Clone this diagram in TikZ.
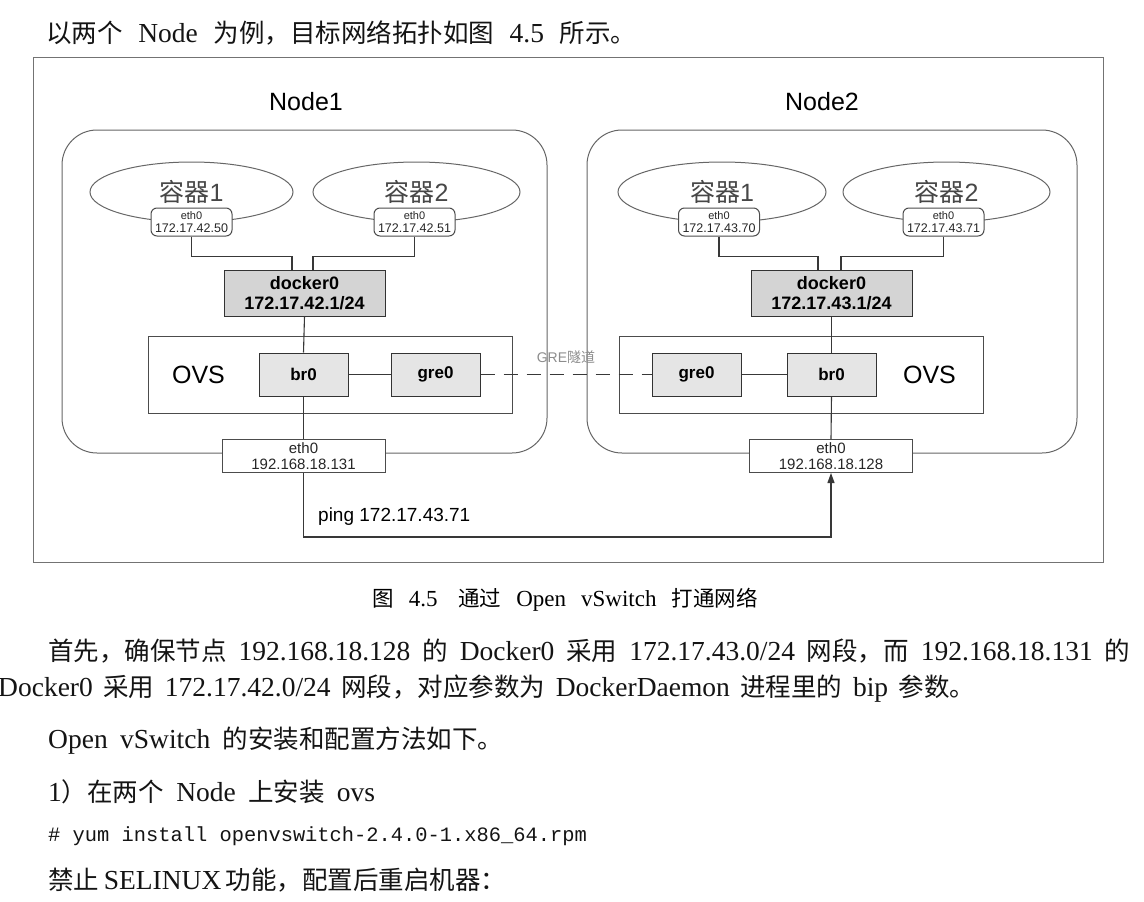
\documentclass[tikz,border=0pt]{standalone}
\usepackage{fontspec}
\setmainfont{Liberation Serif}
\setsansfont{Liberation Sans}
\setmonofont{Liberation Mono}
\newfontfamily\cjk{Noto Sans CJK SC}
\usetikzlibrary{shapes.geometric,arrows.meta,calc}
\newcommand\fsz[1]{\fontsize{#1}{#1}\selectfont}
\newcommand\C[1]{{\cjk #1}}
\newcommand\CB[1]{{\cjk\fsz{25.5}#1}}
\newcommand\CC[1]{{\cjk\fsz{21.5}#1}}
\begin{document}
\begin{tikzpicture}[x=1pt,y=-1pt,
  ln/.style={draw=black!78,line width=1.1pt},
  nodebox/.style={draw=black!60,line width=1pt,rounded corners=35pt,fill=white},
  cont/.style={ellipse,draw=black!60,line width=1pt,fill=white,font=\sffamily\fsz{25},text=black!72},
  ethsmall/.style={draw=black!70,line width=1pt,rounded corners=6pt,fill=white,minimum width=81pt,minimum height=28pt,inner sep=0pt,align=center,font=\sffamily\fsz{11},text=black!85},
  dock/.style={draw=black!80,line width=1pt,fill=black!17,minimum width=161pt,minimum height=46pt,inner sep=0pt,align=center,font=\sffamily\bfseries\fsz{18}},
  ovs/.style={draw=black!70,line width=1pt,fill=white,minimum width=364pt,minimum height=77pt,inner sep=0pt},
  port/.style={draw=black!80,line width=1pt,fill=black!10,minimum width=89pt,minimum height=43pt,inner sep=0pt,font=\sffamily\bfseries\fsz{17}},
  ethbig/.style={draw=black!70,line width=1pt,fill=white,minimum width=163pt,minimum height=33pt,inner sep=0pt,align=center,font=\sffamily\fsz{15},text=black!85},
  body/.style={anchor=west,inner sep=0pt,font=\fsz{27.5},text=black!92},
  lbl/.style={font=\sffamily\fsz{25},inner sep=0pt}
]
\useasboundingbox (0,0) rectangle (1144,902);
\fill[white] (0,0) rectangle (1144,902);

% text above
\node[body] (t0) at (46,33) {\makebox[590pt][s]{\CB{以两个} Node \CB{为例，目标网络拓扑如图} 4.5 \CB{所示。}}};

% outer frame
\node[draw=black!55,line width=0.8pt,minimum width=1070pt,minimum height=505pt,inner sep=0pt] (frame) at (568,309.5) {};

% node labels
\node[lbl] (n1lbl) at (306,102) {Node1};
\node[lbl] (n2lbl) at (822,102) {Node2};

% node boxes
\draw[nodebox] (62,130) rectangle (547,453);
\draw[nodebox] (587,130) rectangle (1077,453);

% containers
\node[cont,minimum width=203pt,minimum height=60pt] (c11) at (191.5,192) {\C{容器}1};
\node[cont,minimum width=207pt,minimum height=60pt] (c12) at (416.5,192) {\C{容器}2};
\node[cont,minimum width=208pt,minimum height=60pt] (c21) at (722,192) {\C{容器}1};
\node[cont,minimum width=207pt,minimum height=60pt] (c22) at (946.5,192) {\C{容器}2};

\node[ethsmall] (b11) at (191.5,222) {eth0\\[2pt]{\fsz{12.5}172.17.42.50}};
\node[ethsmall] (b12) at (414.5,222) {eth0\\[2pt]{\fsz{12.5}172.17.42.51}};
\node[ethsmall] (b21) at (719,222) {eth0\\[2pt]{\fsz{12.5}172.17.43.70}};
\node[ethsmall] (b22) at (943.5,222) {eth0\\[2pt]{\fsz{12.5}172.17.43.71}};

% docker0
\node[dock] (d1) at (304.5,293) {docker0\\[2pt]172.17.42.1/24};
\node[dock] (d2) at (831.5,293) {docker0\\[2pt]172.17.43.1/24};

\draw[ln] (b11.south) |- ([xshift=-12.5pt,yshift=13pt]d1.north) -- ([xshift=-12.5pt]d1.north);
\draw[ln] (b12.south) |- ([xshift=8.5pt,yshift=13pt]d1.north) -- ([xshift=8.5pt]d1.north);
\draw[ln] (b21.south) |- ([xshift=-13.5pt,yshift=13pt]d2.north) -- ([xshift=-13.5pt]d2.north);
\draw[ln] (b22.south) |- ([xshift=9.5pt,yshift=13pt]d2.north) -- ([xshift=9.5pt]d2.north);

% OVS
\node[ovs] (o1) at (330,374.5) {};
\node[ovs] (o2) at (801,374.5) {};
\node[lbl] (o1lbl) at (198.5,375) {OVS};
\node[lbl] (o2lbl) at (929.5,375) {OVS};

\node[port] (br1) at (303.5,374.5) {br0};
\node[port] (gr1) at (435.5,374.5) {gre0};
\node[port] (gr2) at (696.5,374.5) {gre0};
\node[port] (br2) at (831.5,374.5) {br0};

\draw[ln] (br1.east) -- (gr1.west);
\draw[ln] (gr2.east) -- (br2.west);

% eth0 hosts
\node[ethbig] (e1) at (303.5,456) {eth0\\[1pt]192.168.18.131};
\node[ethbig] (e2) at (831,456) {eth0\\[1pt]192.168.18.128};

\draw[ln] (d1.south) -- (br1.north);
\draw[ln] (br1.south) -- (e1.north);
\draw[ln] (d2.south) -- (br2.north);
\draw[ln] (br2.south) -- (e2.north);

% GRE tunnel
\draw[ln,dash pattern=on 14pt off 9pt] (gr1.east) -- (gr2.west);
\node[font=\sffamily\fsz{14},text=black!45,inner sep=0pt] (grelbl) at (566,357) {GRE\C{隧道}};

% ping
\coordinate (pingbase) at (0,537);
\draw[ln,-{Triangle[length=10pt,width=7pt]}] (e1.south) -- (e1.south |- pingbase) -- (e2.south |- pingbase) -- (e2.south);
\node[anchor=west,font=\sffamily\fsz{19},inner sep=0pt] (pinglbl) at (318,517) {ping 172.17.43.71};

% caption
\node[inner sep=0pt,font=\fsz{23}] (cap) at (565,600) {\makebox[385pt][s]{\CC{图} 4.5\hspace{0.9em}\CC{通过} Open vSwitch \CC{打通网络}}};

% body text
\node[body] (p1a) at (48,651) {\makebox[1082pt][s]{\CB{首先，确保节点} 192.168.18.128 \CB{的} Docker0 \CB{采用} 172.17.43.0/24 \CB{网段，而} 192.168.18.131 \CB{的}}};
\node[body] (p1b) at (-2,689) {\makebox[977pt][s]{Docker0 \CB{采用} 172.17.42.0/24 \CB{网段，对应参数为} DockerDaemon \CB{进程里的} bip \CB{参数。}}};
\node[body] (p2) at (48,741) {\makebox[455pt][s]{Open vSwitch \CB{的安装和配置方法如下。}}};
\node[body] (p3) at (48,792) {\makebox[327pt][s]{1\CB{）在两个} Node \CB{上安装} ovs}};
\node[body,font=\ttfamily\fsz{20.4}] (p4) at (48,836) {\# yum install openvswitch-2.4.0-1.x86\_64.rpm};
\node[body] (p5) at (48,880) {\makebox[447pt][s]{\CB{禁止} SELINUX \CB{功能，配置后重启机器：}}};
\end{tikzpicture}
\end{document}
